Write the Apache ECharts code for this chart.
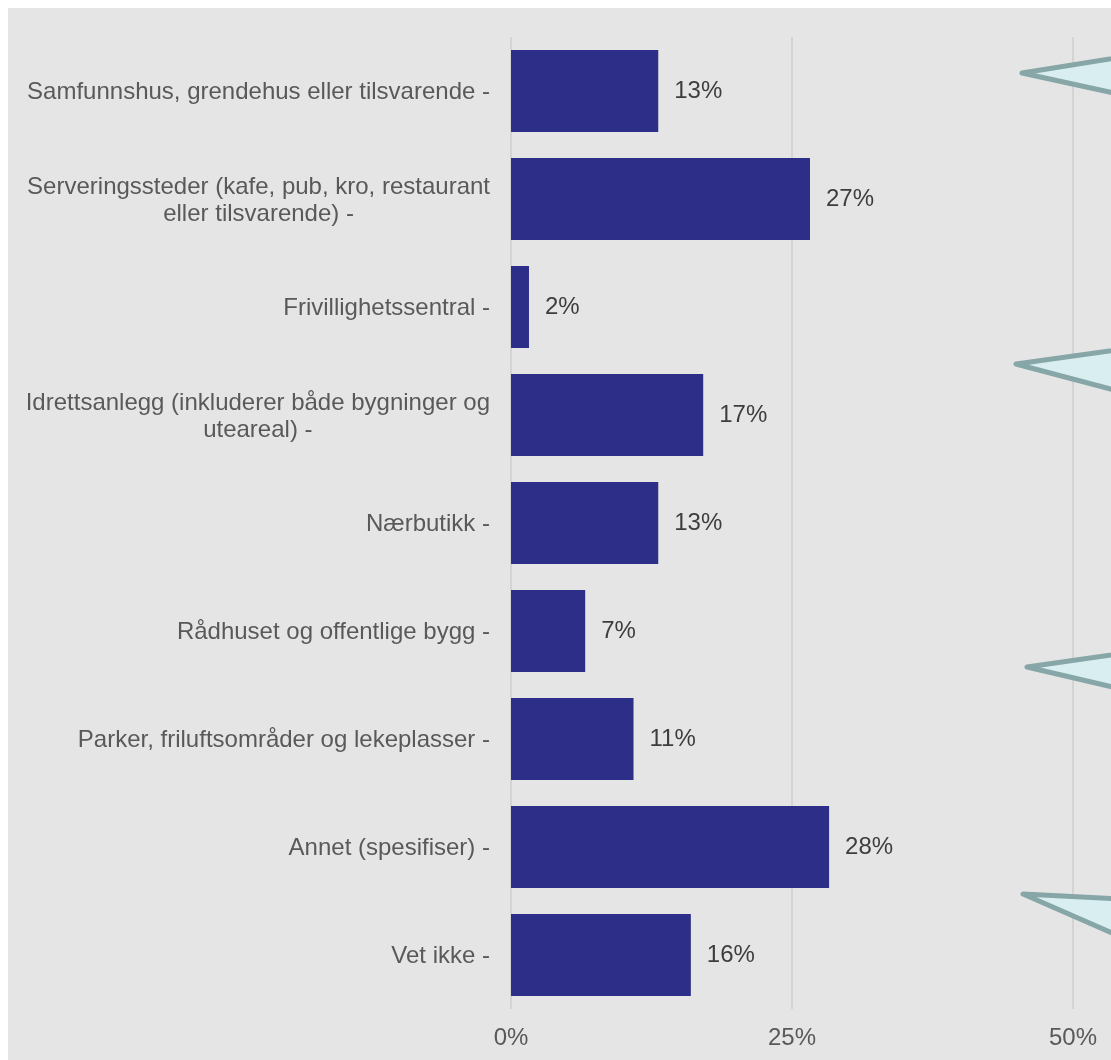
<!DOCTYPE html>
<html>
<head>
<meta charset="utf-8">
<script src="https://cdn.jsdelivr.net/npm/echarts@6/dist/echarts.min.js"></script>
<style>
  html, body { margin: 0; padding: 0; background: #ffffff; }
  #chart { position: absolute; left: 8px; top: 8px; width: 1103px; height: 1052px; }
</style>
</head>
<body>
<div id="chart"></div>
<script>
// categories, top to bottom
const categories = [
    'Samfunnshus, grendehus eller tilsvarende',
    'Serveringssteder (kafe, pub, kro, restaurant\neller tilsvarende)',
    'Frivillighetssentral',
    'Idrettsanlegg (inkluderer både bygninger og\nuteareal)',
    'Nærbutikk',
    'Rådhuset og offentlige bygg',
    'Parker, friluftsområder og lekeplasser',
    'Annet (spesifiser)',
    'Vet ikke'
]
// share of respondents, percent
const shares = [13.1, 26.6, 1.6, 17.1, 13.1, 6.6, 10.9, 28.3, 16.0]
const xTicks = [0, 25, 50]

const chart = echarts.init(document.getElementById('chart'))

const font = '"Liberation Sans", Arial, sans-serif'

// decorative callout arrows cut off at the right edge
const callouts = [
    [[1014, 65], [1152, 43], [1152, 95]],
    [[1008, 356], [1152, 336], [1152, 394]],
    [[1019, 659], [1152, 640], [1152, 690]],
    [[1015, 886], [1152, 893], [1152, 946]]
]

const option = {
    backgroundColor: '#e5e5e5',
    animation: false,
    grid: {
        left: 503,
        right: 38,
        top: 29,
        bottom: 51
    },
    xAxis: {
        type: 'value',
        min: 0,
        max: 50,
        interval: 25,
        axisLine: { show: false },
        axisTick: { show: false },
        splitLine: { lineStyle: { color: '#d4d4d4', width: 2 } },
        axisLabel: {
            margin: 17,
            fontFamily: font,
            fontSize: 24,
            color: '#595959',
            formatter: v => xTicks.includes(v) ? v + '%' : ''
        }
    },
    yAxis: {
        type: 'category',
        inverse: true,
        data: categories,
        axisLine: { show: false },
        axisTick: { show: false },
        splitLine: { show: false },
        axisLabel: {
            margin: 21,
            formatter: v => v.split('\n').map((line, i, arr) =>
                '{c|' + line + (i === arr.length - 1 ? ' -' : '') + '}').join('\n'),
            rich: {
                c: {
                    fontFamily: font,
                    fontSize: 24,
                    color: '#595959',
                    lineHeight: 27,
                    padding: [3, 0, 0, 0],
                    align: 'center'
                }
            }
        }
    },
    series: [
        {
            type: 'bar',
            data: shares,
            barWidth: 82,
            itemStyle: { color: '#2c2e88' },
            label: {
                show: true,
                position: 'right',
                distance: 16,
                fontFamily: font,
                fontSize: 24,
                color: '#3d3d3d',
                formatter: p => Math.round(p.value) + '%'
            }
        }
    ],
    graphic: callouts.map(pts => ({
        type: 'polygon',
        z: 100,
        shape: { points: pts },
        style: {
            fill: '#d9eef0',
            stroke: '#87a6a7',
            lineWidth: 5,
            lineJoin: 'round'
        }
    }))
}

chart.setOption(option)
window.addEventListener('resize', () => chart.resize())
</script>
</body>
</html>
